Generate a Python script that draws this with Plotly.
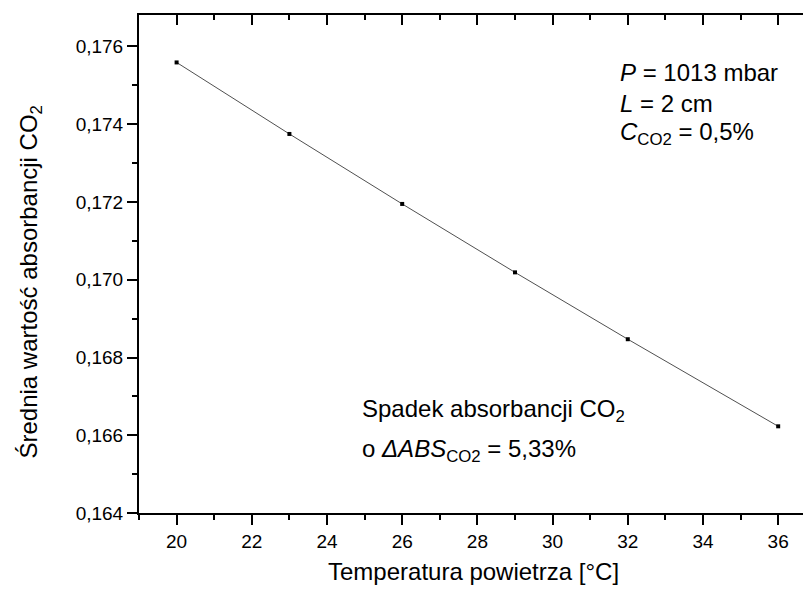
import plotly.graph_objects as go

# Measured mean CO2 absorbance vs. air temperature
temperature = [20, 23, 26, 29, 32, 36]
absorbance = [0.17559, 0.17375, 0.17195, 0.17019, 0.16847, 0.16623]

x_ticks = [20, 22, 24, 26, 28, 30, 32, 34, 36]
y_ticks = [0.164, 0.166, 0.168, 0.170, 0.172, 0.174, 0.176]

FONT = "Liberation Sans, Arial, sans-serif"
X_RANGE = [19, 36.66]
Y_RANGE = [0.164, 0.17681]

fig = go.Figure()
fig.add_trace(go.Scatter(
    x=temperature, y=absorbance, mode="lines+markers",
    line=dict(color="#505050", width=1),
    marker=dict(symbol="square", size=4, color="black"),
    showlegend=False, hoverinfo="skip",
))
# invisible copy on the top axis so it gets drawn
fig.add_trace(go.Scatter(
    x=temperature, y=absorbance, xaxis="x2", mode="lines",
    line=dict(width=0), opacity=0, showlegend=False, hoverinfo="skip",
))

axis_common = dict(showgrid=False, zeroline=False, showline=True,
                   linecolor="black", linewidth=2, tickcolor="black",
                   tickwidth=2)

fig.update_layout(
    width=803, height=589,
    margin=dict(l=139, r=0, t=15, b=76),
    paper_bgcolor="white", plot_bgcolor="white",
    separators=", ",
    font=dict(family=FONT, color="black"),
    xaxis=dict(range=X_RANGE, tickvals=x_ticks, ticks="outside", ticklen=10,
               tickfont=dict(size=19),
               minor=dict(dtick=1, tick0=19, ticks="outside", ticklen=5,
                          tickwidth=2, tickcolor="black"),
               **axis_common),
    xaxis2=dict(range=X_RANGE, overlaying="x", side="top", tickvals=x_ticks,
                ticks="inside", ticklen=10, showticklabels=False,
                minor=dict(dtick=1, tick0=19, ticks="inside", ticklen=5,
                           tickwidth=2, tickcolor="black"),
                **axis_common),
    yaxis=dict(range=Y_RANGE, tickvals=y_ticks, tickformat=".3f",
               ticks="outside", ticklen=10, tickfont=dict(size=19),
               minor=dict(dtick=0.001, tick0=0.164, ticks="outside",
                          ticklen=5, tickwidth=2, tickcolor="black"),
               **axis_common),
)

ann_font = dict(family=FONT, size=24, color="black")
annotations = [
    # axis titles
    dict(text="Temperatura powietrza [°C]", x=0.5045, y=-0.118,
         xanchor="center", yanchor="middle"),
    dict(text="Średnia wartość absorbancji CO<sub>2</sub>", x=-0.164, y=0.465,
         xanchor="center", yanchor="middle", textangle=-90),
    # measurement conditions
    dict(text="<i>P</i> = 1013 mbar", x=0.7214, y=0.884,
         xanchor="left", yanchor="middle"),
    dict(text="<i>L</i> = 2 cm", x=0.7214, y=0.822,
         xanchor="left", yanchor="middle"),
    dict(text="<i>C</i><sub>CO2</sub> = 0,5%", x=0.7214, y=0.762,
         xanchor="left", yanchor="middle"),
    # summary of the absorbance drop
    dict(text="Spadek absorbancji CO<sub>2</sub>", x=0.3328, y=0.205,
         xanchor="left", yanchor="middle"),
    dict(text="o <i>ΔABS</i><sub>CO2</sub> = 5,33%", x=0.3328, y=0.125,
         xanchor="left", yanchor="middle"),
]
for a in annotations:
    fig.add_annotation(xref="paper", yref="paper", showarrow=False,
                       font=ann_font, **a)

fig.write_html("out.html")
